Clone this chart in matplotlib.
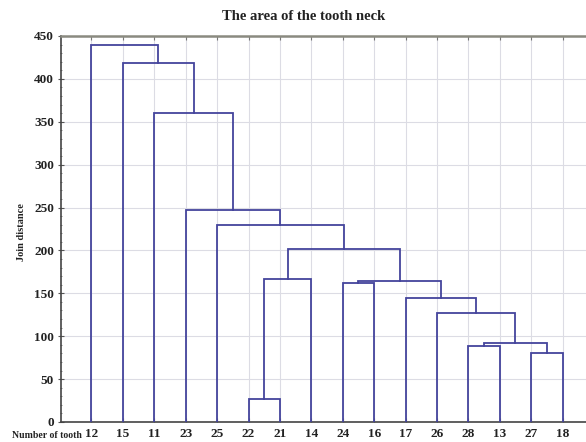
import matplotlib
matplotlib.use("Agg")
import matplotlib.pyplot as plt
from matplotlib.ticker import MultipleLocator

# leaf order along the x axis
teeth = ['12', '15', '11', '23', '25', '22', '21', '14',
         '24', '16', '17', '26', '28', '13', '27', '18']

# merges: (left cluster, right cluster, join distance)
# a cluster is a leaf label or the index (int) of an earlier merge
merges = [
    ('22', '21', 27),
    ('27', '18', 81),
    ('28', '13', 89),
    (2, 1, 92),
    ('26', 3, 127),
    ('17', 4, 145),
    ('24', '16', 162),
    (6, 5, 164),
    (0, '14', 167),
    (8, 7, 202),
    ('25', 9, 230),
    ('23', 10, 247),
    ('11', 11, 360),
    ('15', 12, 419),
    ('12', 13, 440),
]

yticks = [0, 50, 100, 150, 200, 250, 300, 350, 400, 450]

line_col = '#44449c'
serif = ['Liberation Serif', 'DejaVu Serif']

fig = plt.figure(figsize=(5.86, 4.42), dpi=100)
W, H = 586, 442
ax_l, ax_r, ax_t, ax_b = 61, 594, 36, 422
ax = fig.add_axes([ax_l / W, 1 - ax_b / H, (ax_r - ax_l) / W, (ax_b - ax_t) / H])

xpos = {t: i + 1 for i, t in enumerate(teeth)}


def node(c, done):
    if isinstance(c, int):
        return done[c]
    return xpos[c], 0.0


done = []
for a, b, h in merges:
    xa, ya = node(a, done)
    xb, yb = node(b, done)
    ax.plot([xa, xa, xb, xb], [ya, h, h, yb], color=line_col, lw=1.3,
            solid_joinstyle='miter', zorder=3)
    done.append(((xa + xb) / 2, h))

ax.set_xlim(0.03, 17.0)
ax.set_ylim(0, 450)
ax.set_xticks(range(1, len(teeth) + 1))
ax.set_xticklabels(teeth)
ax.set_yticks(yticks)
ax.yaxis.set_minor_locator(MultipleLocator(10))

for lab in ax.get_xticklabels() + ax.get_yticklabels():
    lab.set_family(serif)
    lab.set_fontweight('bold')
    lab.set_fontsize(9.5)
    lab.set_color('#222222')

ax.tick_params(axis='x', top=True, direction='in', length=3, width=0.8,
               color='#777777', pad=4)
ax.tick_params(axis='y', which='major', direction='inout', length=4,
               width=0.8, color='#555555', pad=3)
ax.tick_params(axis='y', which='minor', direction='inout', length=2,
               width=0.6, color='#777777')

ax.grid(True, color='#dcdce4', lw=0.8, zorder=0)
ax.set_axisbelow(True)

for s in ['left', 'bottom']:
    ax.spines[s].set_color('#444444')
    ax.spines[s].set_linewidth(1.2)
ax.spines['top'].set_color('#8a8a80')
ax.spines['top'].set_linewidth(1.8)
ax.spines['right'].set_visible(False)

fig.text(304 / W, 1 - 16 / H, 'The area of the tooth neck', ha='center',
         va='center', family=serif, fontweight='bold', fontsize=10.5,
         color='#222222')
fig.text(22 / W, 1 - 232 / H, 'Join distance', rotation=90, ha='center',
         va='center', family=serif, fontweight='bold', fontsize=7.5,
         color='#222222')
fig.text(82 / W, 1 - 436 / H, 'Number of tooth', ha='right', va='center',
         family=serif, fontweight='bold', fontsize=7, color='#222222')

fig.savefig('out.png', dpi=100)
